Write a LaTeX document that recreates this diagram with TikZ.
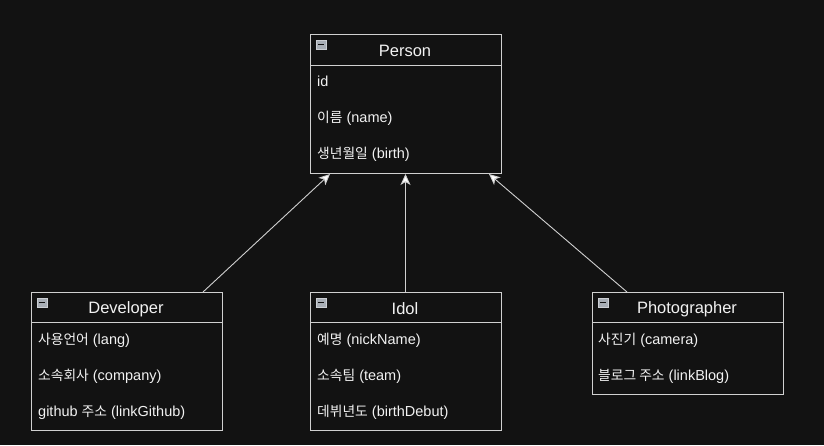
\documentclass[tikz,border=0pt]{standalone}
\usepackage{fontspec}
\setmainfont{Liberation Sans}
\newfontfamily\kr[Scale=0.95]{Noto Sans CJK KR}
\usetikzlibrary{arrows.meta}
\definecolor{bg}{HTML}{121212}
\definecolor{ln}{HTML}{D0D0D0}
\definecolor{tx}{HTML}{F2F2F2}
\definecolor{icon}{HTML}{A8AEB6}
\tikzset{
  classbox/.style={draw=ln, line width=0.9pt, fill=bg},
  sep/.style={draw=ln, line width=0.9pt},
  title/.style={text=tx, font=\fontsize{16.5}{18}\selectfont, anchor=center, inner sep=0pt},
  attr/.style={text=tx, font=\fontsize{14.5}{16}\selectfont, anchor=base west, inner sep=0pt},
  inherit/.style={draw=ln, line width=0.9pt, -{Stealth[fill=white, length=11pt, width=10pt, inset=3pt]}}
}
\newcommand{\minusicon}[2]{%
  \filldraw[fill=icon, draw=icon!60!white, line width=0.5pt] (#1,#2) rectangle ++(10,9);
  \draw[bg, line width=1.4pt] (#1+2,#2+4.5) -- ++(6,0);
}
\begin{document}
\begin{tikzpicture}[x=1pt,y=-1pt]
\fill[bg] (0,0) rectangle (824,445);
\useasboundingbox (0,0) rectangle (824,445);

% Person
\node[classbox, minimum width=191pt, minimum height=139pt, anchor=north west, inner sep=0pt] (person) at (310,34) {};
\draw[sep] (310,65) -- (501,65);
\minusicon{316}{40}
\node[title] (personT) at (405,51) {Person};
\node[attr] (p1) at (317,86) {id};
\node[attr] (p2) at (317,122) {{\kr 이름} (name)};
\node[attr] (p3) at (317,158) {{\kr 생년월일} (birth)};

% Developer
\node[classbox, minimum width=191pt, minimum height=138pt, anchor=north west, inner sep=0pt] (dev) at (31,292) {};
\draw[sep] (31,322) -- (222,322);
\minusicon{37}{298}
\node[title] (devT) at (126,309) {Developer};
\node[attr] (d1) at (38,344) {{\kr 사용언어} (lang)};
\node[attr] (d2) at (38,380) {{\kr 소속회사} (company)};
\node[attr] (d3) at (38,416) {github {\kr 주소} (linkGithub)};

% Idol
\node[classbox, minimum width=191pt, minimum height=138pt, anchor=north west, inner sep=0pt] (idol) at (310,292) {};
\draw[sep] (310,322) -- (501,322);
\minusicon{316}{298}
\node[title] (idolT) at (405,309) {Idol};
\node[attr] (i1) at (317,344) {{\kr 예명} (nickName)};
\node[attr] (i2) at (317,380) {{\kr 소속팀} (team)};
\node[attr] (i3) at (317,416) {{\kr 데뷔년도} (birthDebut)};

% Photographer
\node[classbox, minimum width=191pt, minimum height=102pt, anchor=north west, inner sep=0pt] (photo) at (592,292) {};
\draw[sep] (592,322) -- (783,322);
\minusicon{598}{298}
\node[title] (photoT) at (687,309) {Photographer};
\node[attr] (f1) at (598,344) {{\kr 사진기} (camera)};
\node[attr] (f2) at (598,380) {{\kr 블로그 주소} (linkBlog)};

% connectors
\coordinate (pDev) at (330,174);
\coordinate (pIdol) at (405.5,174);
\coordinate (pPhoto) at (489,174);
\coordinate (sDev) at (203,292);
\coordinate (sIdol) at (405.5,292);
\coordinate (sPhoto) at (627,292);
\draw[inherit] (sDev) -- (pDev);
\draw[inherit] (sIdol) -- (pIdol);
\draw[inherit] (sPhoto) -- (pPhoto);
\end{tikzpicture}
\end{document}
